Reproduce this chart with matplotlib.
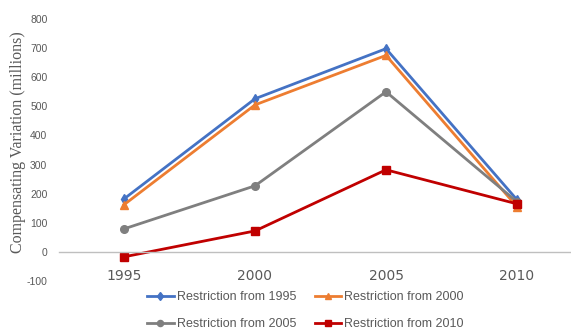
import matplotlib
matplotlib.use("Agg")
import matplotlib.pyplot as plt

# compensating variation by restriction start year (millions)
years = ["1995", "2000", "2005", "2010"]
from_1995 = [182, 526, 698, 179]
from_2000 = [162, 505, 675, 155]
from_2005 = [79, 227, 550, 172]
from_2010 = [-17, 72, 282, 165]
y_ticks = [-100, 0, 100, 200, 300, 400, 500, 600, 700, 800]

series = [
    ("Restriction from 1995", from_1995, "#4472C4", "d"),
    ("Restriction from 2000", from_2000, "#ED7D31", "^"),
    ("Restriction from 2005", from_2005, "#7F7F7F", "o"),
    ("Restriction from 2010", from_2010, "#C00000", "s"),
]

fig = plt.figure(figsize=(5.71, 3.29), dpi=100)
ax = fig.add_axes([58.5 / 571, 1 - 281 / 329, 524 / 571, 262 / 329])

x = range(len(years))
lines = []
for label, vals, col, mk in series:
    ln, = ax.plot(x, vals, color=col, lw=2, marker=mk, ms=5.5, label=label)
    lines.append(ln)

ax.set_xlim(-0.5, 3.5)
ax.set_ylim(-100, 800)
ax.set_yticks(y_ticks)
ax.set_yticklabels([str(v) for v in y_ticks], fontsize=7.5, family="Liberation Sans")
ax.set_xticks(list(x))
ax.set_xticklabels(years, fontsize=9.5, family="Liberation Sans")
ax.tick_params(axis="y", length=0, pad=8, labelcolor="#595959")
ax.tick_params(axis="x", length=0, pad=12, labelcolor="#595959")

for s in ["top", "right", "left"]:
    ax.spines[s].set_visible(False)
ax.spines["bottom"].set_position(("data", 0))
ax.spines["bottom"].set_color("#BFBFBF")
ax.spines["bottom"].set_linewidth(1)

fig.text(18 / 571, 1 - 142 / 329, "Compensating Variation (millions)", rotation=90,
         ha="center", va="center", fontsize=11.5, color="#595959",
         family="Liberation Serif")

# legend fills row by row: 1995, 2000 / 2005, 2010
order = [0, 2, 1, 3]
fig.legend([lines[i] for i in order], [series[i][0] for i in order],
           loc="upper left", bbox_to_anchor=(141 / 571, 1 - 285 / 329), ncol=2,
           frameon=False, labelspacing=1.2, handlelength=2.1, markerscale=0.8,
           handletextpad=0.25, columnspacing=1.5, borderpad=0,
           prop={"family": "Liberation Sans", "size": 9}, labelcolor="#595959")

fig.savefig("out.png", dpi=100)
